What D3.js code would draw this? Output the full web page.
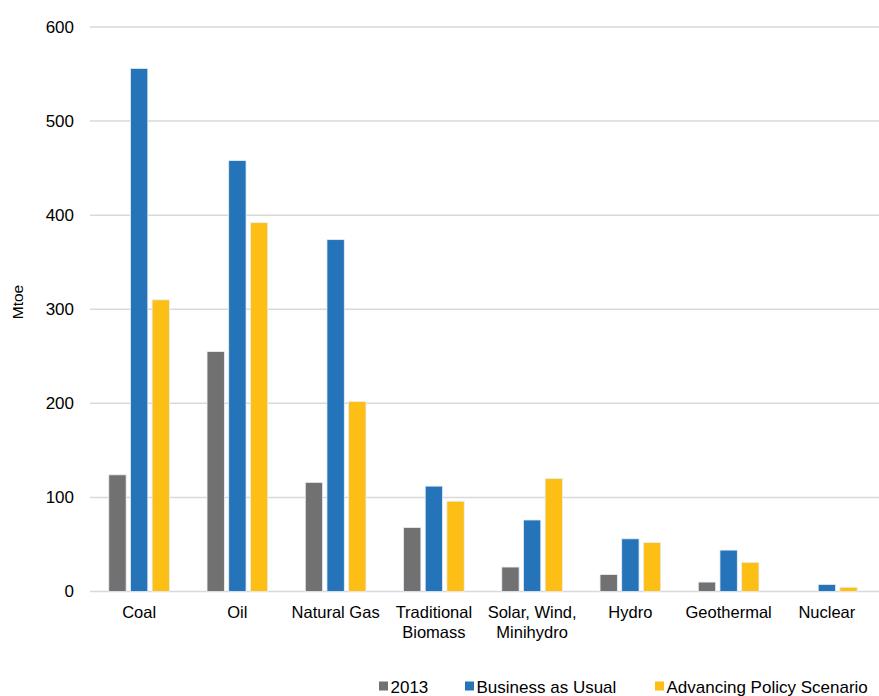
<!DOCTYPE html>
<html>
<head>
<meta charset="utf-8">
<script src="https://cdn.jsdelivr.net/npm/d3@7"></script>
<style>
  html, body { margin: 0; padding: 0; background: #fff; overflow: hidden; }
  svg { display: block; font-family: "Liberation Sans", Arial, sans-serif; }
</style>
</head>
<body>
<svg id="chart" width="879" height="696"></svg>
<script>
// Energy demand by source (Mtoe)
const categories = [
  ["Coal"], ["Oil"], ["Natural Gas"], ["Traditional", "Biomass"],
  ["Solar, Wind,", "Minihydro"], ["Hydro"], ["Geothermal"], ["Nuclear"]
];
const seriesNames = ["2013", "Business as Usual", "Advancing Policy Scenario"];
const values2013 = [124, 255, 116, 68, 26, 18, 10, 0];
const valuesBAU = [556, 458, 374, 112, 76, 56, 44, 7.5];
const valuesAPS = [310, 392, 202, 96, 120, 52, 31, 4.5];
const yTicks = [0, 100, 200, 300, 400, 500, 600];
const colors = ["#717171", "#2573b8", "#fdbf15"];

const series = [values2013, valuesBAU, valuesAPS];
const svg = d3.select("#chart");

const plotLeft = 90, plotRight = 876, plotTop = 27, plotBottom = 591.5;
const catIdx = categories.map((d, i) => i);

const x = d3.scaleBand().domain(catIdx).range([plotLeft, plotRight]).paddingInner(0).paddingOuter(0);
const y = d3.scaleLinear().domain([0, 600]).range([plotBottom, plotTop]);

// gridlines
svg.append("g")
  .selectAll("line")
  .data(yTicks)
  .join("line")
  .attr("x1", plotLeft).attr("x2", 879)
  .attr("y1", d => y(d)).attr("y2", d => y(d))
  .attr("stroke", "#d9d9d9").attr("stroke-width", 1.5);

// y-axis tick labels
const yAxis = d3.axisLeft(y).tickValues(yTicks).tickSize(0).tickPadding(0);
const gy = svg.append("g").attr("transform", `translate(74,0)`).call(yAxis);
gy.select(".domain").remove();
gy.selectAll("text")
  .attr("font-family", "Liberation Sans, Arial, sans-serif")
  .attr("font-size", 17).attr("fill", "#000");

// y-axis title
svg.append("text")
  .attr("transform", "translate(23,302) rotate(-90)")
  .attr("text-anchor", "middle")
  .attr("font-size", 15.5).attr("fill", "#000")
  .text("Mtoe");

// bars: three per category
const groupWidth = 65;
const xs = d3.scaleBand().domain([0, 1, 2]).range([0, groupWidth]).paddingInner(0.2).paddingOuter(0.1);

const groups = svg.append("g").selectAll("g")
  .data(catIdx)
  .join("g")
  .attr("transform", i => `translate(${x(i) + x.bandwidth() / 2 - groupWidth / 2},0)`);

groups.selectAll("rect")
  .data(i => series.map((s, k) => ({ k, v: s[i] })))
  .join("rect")
  .attr("x", d => xs(d.k))
  .attr("width", xs.bandwidth())
  .attr("y", d => y(d.v))
  .attr("height", d => Math.max(0, y(0) - y(d.v)))
  .attr("fill", d => colors[d.k])
  .attr("stroke", d => d.v > 0 ? "#e6eef7" : "none")
  .attr("stroke-width", 0.8);

// category labels
const xl = svg.append("g");
categories.forEach((lines, i) => {
  const t = xl.append("text")
    .attr("x", x(i) + x.bandwidth() / 2)
    .attr("y", 618)
    .attr("text-anchor", "middle")
    .attr("font-size", 16.5).attr("fill", "#000");
  lines.forEach((ln, j) => {
    t.append("tspan")
      .attr("x", x(i) + x.bandwidth() / 2)
      .attr("dy", j === 0 ? 0 : 20)
      .text(ln);
  });
});

// legend
const legendX = [379, 465, 655];
const legend = svg.append("g");
seriesNames.forEach((name, k) => {
  legend.append("rect")
    .attr("x", legendX[k]).attr("y", 681.5)
    .attr("width", 9).attr("height", 9)
    .attr("fill", colors[k]);
  legend.append("text")
    .attr("x", legendX[k] + 11.5).attr("y", 692.5)
    .attr("font-size", 17).attr("fill", "#000")
    .text(name);
});
</script>
</body>
</html>
